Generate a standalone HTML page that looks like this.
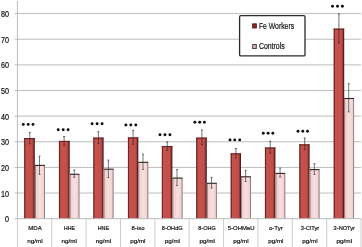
<!DOCTYPE html><html><head><meta charset="utf-8"><style>html,body{margin:0;padding:0;background:#fff;overflow:hidden}svg{display:block}text{font-family:"Liberation Sans",sans-serif;fill:#141414;stroke:#141414;stroke-width:0.2}</style></head><body>
<svg width="362" height="247" viewBox="0 0 362 247">
<defs>
<linearGradient id="gr" x1="0" x2="1" y1="0" y2="0"><stop offset="0" stop-color="#5e1c1b"/><stop offset="0.1" stop-color="#7e2d2b"/><stop offset="0.16" stop-color="#c6524f"/><stop offset="0.74" stop-color="#c34f4c"/><stop offset="0.85" stop-color="#9a3b39"/><stop offset="0.93" stop-color="#5e1f1e"/><stop offset="1" stop-color="#3a1110"/></linearGradient>
<linearGradient id="gp" x1="0" x2="1" y1="0" y2="0"><stop offset="0" stop-color="#ebcac9"/><stop offset="0.5" stop-color="#f7e0df"/><stop offset="1" stop-color="#edcdcc"/></linearGradient>
<filter id="bl" x="-5%" y="-5%" width="110%" height="110%"><feGaussianBlur stdDeviation="0.35"/></filter>
<filter id="bl2" x="-5%" y="-20%" width="110%" height="140%"><feGaussianBlur stdDeviation="0.22"/></filter>
</defs>
<rect width="362" height="247" fill="#fff"/>
<g filter="url(#bl)">
<line x1="17.4" x2="361" y1="193.06" y2="193.06" stroke="#bdbdbd" stroke-width="1"/>
<line x1="17.4" x2="361" y1="167.42" y2="167.42" stroke="#bdbdbd" stroke-width="1"/>
<line x1="17.4" x2="361" y1="141.78" y2="141.78" stroke="#bdbdbd" stroke-width="1"/>
<line x1="17.4" x2="361" y1="116.14" y2="116.14" stroke="#bdbdbd" stroke-width="1"/>
<line x1="17.4" x2="361" y1="90.50" y2="90.50" stroke="#bdbdbd" stroke-width="1"/>
<line x1="17.4" x2="361" y1="64.86" y2="64.86" stroke="#bdbdbd" stroke-width="1"/>
<line x1="17.4" x2="361" y1="39.22" y2="39.22" stroke="#bdbdbd" stroke-width="1"/>
<line x1="17.4" x2="361" y1="13.58" y2="13.58" stroke="#bdbdbd" stroke-width="1"/>
<line x1="14.6" x2="17.4" y1="218.70" y2="218.70" stroke="#bababa" stroke-width="1"/>
<line x1="14.6" x2="17.4" y1="193.06" y2="193.06" stroke="#bababa" stroke-width="1"/>
<line x1="14.6" x2="17.4" y1="167.42" y2="167.42" stroke="#bababa" stroke-width="1"/>
<line x1="14.6" x2="17.4" y1="141.78" y2="141.78" stroke="#bababa" stroke-width="1"/>
<line x1="14.6" x2="17.4" y1="116.14" y2="116.14" stroke="#bababa" stroke-width="1"/>
<line x1="14.6" x2="17.4" y1="90.50" y2="90.50" stroke="#bababa" stroke-width="1"/>
<line x1="14.6" x2="17.4" y1="64.86" y2="64.86" stroke="#bababa" stroke-width="1"/>
<line x1="14.6" x2="17.4" y1="39.22" y2="39.22" stroke="#bababa" stroke-width="1"/>
<line x1="14.6" x2="17.4" y1="13.58" y2="13.58" stroke="#bababa" stroke-width="1"/>
<line x1="17.4" x2="17.4" y1="1" y2="218.7" stroke="#bababa" stroke-width="1"/>
<line x1="17.40" x2="17.40" y1="218.7" y2="247" stroke="#cdcdcd" stroke-width="1"/>
<line x1="51.76" x2="51.76" y1="218.7" y2="247" stroke="#cdcdcd" stroke-width="1"/>
<line x1="86.12" x2="86.12" y1="218.7" y2="247" stroke="#cdcdcd" stroke-width="1"/>
<line x1="120.48" x2="120.48" y1="218.7" y2="247" stroke="#cdcdcd" stroke-width="1"/>
<line x1="154.84" x2="154.84" y1="218.7" y2="247" stroke="#cdcdcd" stroke-width="1"/>
<line x1="189.20" x2="189.20" y1="218.7" y2="247" stroke="#cdcdcd" stroke-width="1"/>
<line x1="223.56" x2="223.56" y1="218.7" y2="247" stroke="#cdcdcd" stroke-width="1"/>
<line x1="257.92" x2="257.92" y1="218.7" y2="247" stroke="#cdcdcd" stroke-width="1"/>
<line x1="292.28" x2="292.28" y1="218.7" y2="247" stroke="#cdcdcd" stroke-width="1"/>
<line x1="326.64" x2="326.64" y1="218.7" y2="247" stroke="#cdcdcd" stroke-width="1"/>
<line x1="361.00" x2="361.00" y1="218.7" y2="247" stroke="#cdcdcd" stroke-width="1"/>
<rect x="24.10" y="138.00" width="10.70" height="80.70" fill="url(#gr)"/>
<rect x="24.10" y="138.00" width="10.70" height="1.1" fill="#6a2322"/>
<path d="M29.80 132.40V143.80M28.80 132.40H30.80M28.80 143.80H30.80" stroke="#2e2424" stroke-width="0.65" fill="none"/>
<rect x="35.00" y="164.90" width="9.90" height="53.80" fill="url(#gp)"/>
<path d="M35.40 218.7V165.40M44.50 218.7V165.40" stroke="#806868" stroke-width="0.8" fill="none"/>
<path d="M35.00 165.40H44.90" stroke="#2e2424" stroke-width="1.1" fill="none"/>
<path d="M39.50 156.10V174.40M38.50 156.10H40.50M38.50 174.40H40.50" stroke="#303030" stroke-width="0.65" fill="none"/>
<circle cx="23.30" cy="124.40" r="1.45" fill="#111"/>
<circle cx="28.20" cy="124.40" r="1.45" fill="#111"/>
<circle cx="33.00" cy="124.40" r="1.45" fill="#111"/>
<rect x="58.90" y="140.90" width="10.80" height="77.80" fill="url(#gr)"/>
<rect x="58.90" y="140.90" width="10.80" height="1.1" fill="#6a2322"/>
<path d="M64.10 136.50V145.30M63.10 136.50H65.10M63.10 145.30H65.10" stroke="#2e2424" stroke-width="0.65" fill="none"/>
<rect x="69.70" y="173.80" width="9.70" height="44.90" fill="url(#gp)"/>
<path d="M70.10 218.7V174.30M79.00 218.7V174.30" stroke="#806868" stroke-width="0.8" fill="none"/>
<path d="M69.70 174.30H79.40" stroke="#2e2424" stroke-width="1.1" fill="none"/>
<path d="M74.20 170.00V177.30M73.20 170.00H75.20M73.20 177.30H75.20" stroke="#303030" stroke-width="0.65" fill="none"/>
<circle cx="58.20" cy="129.80" r="1.45" fill="#111"/>
<circle cx="63.20" cy="129.80" r="1.45" fill="#111"/>
<circle cx="68.10" cy="129.80" r="1.45" fill="#111"/>
<rect x="93.20" y="137.60" width="10.40" height="81.10" fill="url(#gr)"/>
<rect x="93.20" y="137.60" width="10.40" height="1.1" fill="#6a2322"/>
<path d="M98.40 131.70V143.70M97.40 131.70H99.40M97.40 143.70H99.40" stroke="#2e2424" stroke-width="0.65" fill="none"/>
<rect x="103.60" y="168.70" width="9.90" height="50.00" fill="url(#gp)"/>
<path d="M104.00 218.7V169.20M113.10 218.7V169.20" stroke="#806868" stroke-width="0.8" fill="none"/>
<path d="M103.60 169.20H113.50" stroke="#2e2424" stroke-width="1.1" fill="none"/>
<path d="M108.40 160.10V177.60M107.40 160.10H109.40M107.40 177.60H109.40" stroke="#303030" stroke-width="0.65" fill="none"/>
<circle cx="92.10" cy="123.70" r="1.45" fill="#111"/>
<circle cx="97.10" cy="123.70" r="1.45" fill="#111"/>
<circle cx="102.10" cy="123.70" r="1.45" fill="#111"/>
<rect x="127.90" y="137.40" width="10.40" height="81.30" fill="url(#gr)"/>
<rect x="127.90" y="137.40" width="10.40" height="1.1" fill="#6a2322"/>
<path d="M133.10 130.40V144.30M132.10 130.40H134.10M132.10 144.30H134.10" stroke="#2e2424" stroke-width="0.65" fill="none"/>
<rect x="138.30" y="161.80" width="9.90" height="56.90" fill="url(#gp)"/>
<path d="M138.70 218.7V162.30M147.80 218.7V162.30" stroke="#806868" stroke-width="0.8" fill="none"/>
<path d="M138.30 162.30H148.20" stroke="#2e2424" stroke-width="1.1" fill="none"/>
<path d="M143.00 154.20V169.40M142.00 154.20H144.00M142.00 169.40H144.00" stroke="#303030" stroke-width="0.65" fill="none"/>
<circle cx="125.90" cy="125.00" r="1.45" fill="#111"/>
<circle cx="130.80" cy="125.00" r="1.45" fill="#111"/>
<circle cx="135.80" cy="125.00" r="1.45" fill="#111"/>
<rect x="161.80" y="146.00" width="10.60" height="72.70" fill="url(#gr)"/>
<rect x="161.80" y="146.00" width="10.60" height="1.1" fill="#6a2322"/>
<path d="M167.25 141.80V150.40M166.25 141.80H168.25M166.25 150.40H168.25" stroke="#2e2424" stroke-width="0.65" fill="none"/>
<rect x="172.40" y="177.60" width="10.10" height="41.10" fill="url(#gp)"/>
<path d="M172.80 218.7V178.10M182.10 218.7V178.10" stroke="#806868" stroke-width="0.8" fill="none"/>
<path d="M172.40 178.10H182.50" stroke="#2e2424" stroke-width="1.1" fill="none"/>
<path d="M177.00 169.60V185.60M176.00 169.60H178.00M176.00 185.60H178.00" stroke="#303030" stroke-width="0.65" fill="none"/>
<circle cx="160.00" cy="134.80" r="1.45" fill="#111"/>
<circle cx="165.00" cy="134.80" r="1.45" fill="#111"/>
<circle cx="169.90" cy="134.80" r="1.45" fill="#111"/>
<rect x="196.10" y="137.60" width="10.70" height="81.10" fill="url(#gr)"/>
<rect x="196.10" y="137.60" width="10.70" height="1.1" fill="#6a2322"/>
<path d="M201.90 130.00V144.70M200.90 130.00H202.90M200.90 144.70H202.90" stroke="#2e2424" stroke-width="0.65" fill="none"/>
<rect x="206.90" y="182.80" width="9.90" height="35.90" fill="url(#gp)"/>
<path d="M207.30 218.7V183.30M216.40 218.7V183.30" stroke="#806868" stroke-width="0.8" fill="none"/>
<path d="M206.90 183.30H216.80" stroke="#2e2424" stroke-width="1.1" fill="none"/>
<path d="M211.50 177.30V188.10M210.50 177.30H212.50M210.50 188.10H212.50" stroke="#303030" stroke-width="0.65" fill="none"/>
<circle cx="194.90" cy="122.20" r="1.45" fill="#111"/>
<circle cx="199.70" cy="122.20" r="1.45" fill="#111"/>
<circle cx="204.40" cy="122.20" r="1.45" fill="#111"/>
<rect x="230.60" y="153.30" width="10.40" height="65.40" fill="url(#gr)"/>
<rect x="230.60" y="153.30" width="10.40" height="1.1" fill="#6a2322"/>
<path d="M235.90 148.50V158.00M234.90 148.50H236.90M234.90 158.00H236.90" stroke="#2e2424" stroke-width="0.65" fill="none"/>
<rect x="241.00" y="176.30" width="9.90" height="42.40" fill="url(#gp)"/>
<path d="M241.40 218.7V176.80M250.50 218.7V176.80" stroke="#806868" stroke-width="0.8" fill="none"/>
<path d="M241.00 176.80H250.90" stroke="#2e2424" stroke-width="1.1" fill="none"/>
<path d="M245.60 170.40V181.50M244.60 170.40H246.60M244.60 181.50H246.60" stroke="#303030" stroke-width="0.65" fill="none"/>
<circle cx="230.00" cy="139.90" r="1.45" fill="#111"/>
<circle cx="234.70" cy="139.90" r="1.45" fill="#111"/>
<circle cx="239.70" cy="139.90" r="1.45" fill="#111"/>
<rect x="264.90" y="147.50" width="10.50" height="71.20" fill="url(#gr)"/>
<rect x="264.90" y="147.50" width="10.50" height="1.1" fill="#6a2322"/>
<path d="M270.20 141.30V153.30M269.20 141.30H271.20M269.20 153.30H271.20" stroke="#2e2424" stroke-width="0.65" fill="none"/>
<rect x="275.50" y="172.90" width="9.70" height="45.80" fill="url(#gp)"/>
<path d="M275.90 218.7V173.40M284.80 218.7V173.40" stroke="#806868" stroke-width="0.8" fill="none"/>
<path d="M275.50 173.40H285.20" stroke="#2e2424" stroke-width="1.1" fill="none"/>
<path d="M280.10 168.10V177.10M279.10 168.10H281.10M279.10 177.10H281.10" stroke="#303030" stroke-width="0.65" fill="none"/>
<circle cx="263.30" cy="133.20" r="1.45" fill="#111"/>
<circle cx="268.10" cy="133.20" r="1.45" fill="#111"/>
<circle cx="272.80" cy="133.20" r="1.45" fill="#111"/>
<rect x="299.20" y="144.30" width="10.40" height="74.40" fill="url(#gr)"/>
<rect x="299.20" y="144.30" width="10.40" height="1.1" fill="#6a2322"/>
<path d="M304.70 138.00V149.50M303.70 138.00H305.70M303.70 149.50H305.70" stroke="#2e2424" stroke-width="0.65" fill="none"/>
<rect x="309.60" y="169.10" width="9.90" height="49.60" fill="url(#gp)"/>
<path d="M310.00 218.7V169.60M319.10 218.7V169.60" stroke="#806868" stroke-width="0.8" fill="none"/>
<path d="M309.60 169.60H319.50" stroke="#2e2424" stroke-width="1.1" fill="none"/>
<path d="M314.40 163.70V174.40M313.40 163.70H315.40M313.40 174.40H315.40" stroke="#303030" stroke-width="0.65" fill="none"/>
<circle cx="298.00" cy="131.30" r="1.45" fill="#111"/>
<circle cx="302.80" cy="131.30" r="1.45" fill="#111"/>
<circle cx="307.50" cy="131.30" r="1.45" fill="#111"/>
<rect x="333.60" y="28.60" width="10.60" height="190.10" fill="url(#gr)"/>
<rect x="333.60" y="28.60" width="10.60" height="1.1" fill="#6a2322"/>
<path d="M338.90 13.90V42.90M337.90 13.90H339.90M337.90 42.90H339.90" stroke="#2e2424" stroke-width="0.65" fill="none"/>
<rect x="344.20" y="98.00" width="9.80" height="120.70" fill="url(#gp)"/>
<path d="M344.60 218.7V98.50M353.60 218.7V98.50" stroke="#806868" stroke-width="0.8" fill="none"/>
<path d="M344.20 98.50H354.00" stroke="#2e2424" stroke-width="1.1" fill="none"/>
<path d="M348.70 83.70V111.90M347.70 83.70H349.70M347.70 111.90H349.70" stroke="#303030" stroke-width="0.65" fill="none"/>
<circle cx="332.50" cy="6.20" r="1.45" fill="#111"/>
<circle cx="337.50" cy="6.20" r="1.45" fill="#111"/>
<circle cx="342.40" cy="6.20" r="1.45" fill="#111"/>
<line x1="17.4" x2="361" y1="218.7" y2="218.7" stroke="#bababa" stroke-width="1"/>
<rect x="239.6" y="15.7" width="65.4" height="40.2" rx="1.2" fill="#fff" stroke="#2a2a2a" stroke-width="1.3"/>
<rect x="252.7" y="23.9" width="3.6" height="4.0" fill="#a32a28" stroke="#4a1010" stroke-width="1"/>
<rect x="252.7" y="44.5" width="3.6" height="4.0" fill="#d6bcbb" stroke="#4a3c3c" stroke-width="1"/>
<text x="258.9" y="28.6" font-size="8.4" textLength="35.2" lengthAdjust="spacingAndGlyphs">Fe Workers</text>
<text x="258.9" y="48.9" font-size="8.4" textLength="25.8" lengthAdjust="spacingAndGlyphs">Controls</text>
<text x="5.10" y="222.20" font-size="8.2" textLength="4.0" lengthAdjust="spacingAndGlyphs">0</text>
<text x="1.10" y="196.56" font-size="8.2" textLength="8.0" lengthAdjust="spacingAndGlyphs">10</text>
<text x="1.10" y="170.92" font-size="8.2" textLength="8.0" lengthAdjust="spacingAndGlyphs">20</text>
<text x="1.10" y="145.28" font-size="8.2" textLength="8.0" lengthAdjust="spacingAndGlyphs">30</text>
<text x="1.10" y="119.64" font-size="8.2" textLength="8.0" lengthAdjust="spacingAndGlyphs">40</text>
<text x="1.10" y="94.00" font-size="8.2" textLength="8.0" lengthAdjust="spacingAndGlyphs">50</text>
<text x="1.10" y="68.36" font-size="8.2" textLength="8.0" lengthAdjust="spacingAndGlyphs">60</text>
<text x="1.10" y="42.72" font-size="8.2" textLength="8.0" lengthAdjust="spacingAndGlyphs">70</text>
<text x="1.10" y="17.08" font-size="8.2" textLength="8.0" lengthAdjust="spacingAndGlyphs">80</text>
</g>
<g filter="url(#bl2)">
<text x="28.20" y="230.3" font-size="6" stroke="none" fill="#222" textLength="13.50" lengthAdjust="spacingAndGlyphs">MDA</text>
<text x="27.30" y="242.7" font-size="6" stroke="none" fill="#222" textLength="15.30" lengthAdjust="spacingAndGlyphs">ng/ml</text>
<text x="63.90" y="230.3" font-size="6" stroke="none" fill="#222" textLength="11.00" lengthAdjust="spacingAndGlyphs">HHE</text>
<text x="61.50" y="242.7" font-size="6" stroke="none" fill="#222" textLength="15.30" lengthAdjust="spacingAndGlyphs">ng/ml</text>
<text x="97.70" y="230.3" font-size="6" stroke="none" fill="#222" textLength="11.40" lengthAdjust="spacingAndGlyphs">HNE</text>
<text x="95.70" y="242.7" font-size="6" stroke="none" fill="#222" textLength="15.40" lengthAdjust="spacingAndGlyphs">ng/ml</text>
<text x="131.50" y="230.3" font-size="6" stroke="none" fill="#222" textLength="13.00" lengthAdjust="spacingAndGlyphs">8-iso</text>
<text x="130.30" y="242.7" font-size="6" stroke="none" fill="#222" textLength="15.10" lengthAdjust="spacingAndGlyphs">pg/ml</text>
<text x="161.80" y="230.3" font-size="6" stroke="none" fill="#222" textLength="20.80" lengthAdjust="spacingAndGlyphs">8-OHdG</text>
<text x="164.70" y="242.7" font-size="6" stroke="none" fill="#222" textLength="15.30" lengthAdjust="spacingAndGlyphs">pg/ml</text>
<text x="198.30" y="230.3" font-size="6" stroke="none" fill="#222" textLength="17.50" lengthAdjust="spacingAndGlyphs">8-OHG</text>
<text x="199.50" y="242.7" font-size="6" stroke="none" fill="#222" textLength="15.30" lengthAdjust="spacingAndGlyphs">pg/ml</text>
<text x="227.80" y="230.3" font-size="6" stroke="none" fill="#222" textLength="26.80" lengthAdjust="spacingAndGlyphs">5-OHMeU</text>
<text x="233.30" y="242.7" font-size="6" stroke="none" fill="#222" textLength="15.30" lengthAdjust="spacingAndGlyphs">pg/ml</text>
<text x="268.90" y="230.3" font-size="6" stroke="none" fill="#222" textLength="13.90" lengthAdjust="spacingAndGlyphs">o-Tyr</text>
<text x="268.30" y="242.7" font-size="6" stroke="none" fill="#222" textLength="15.10" lengthAdjust="spacingAndGlyphs">pg/ml</text>
<text x="300.70" y="230.3" font-size="6" stroke="none" fill="#222" textLength="18.50" lengthAdjust="spacingAndGlyphs">3-ClTyr</text>
<text x="302.30" y="242.7" font-size="6" stroke="none" fill="#222" textLength="15.30" lengthAdjust="spacingAndGlyphs">pg/ml</text>
<text x="333.60" y="230.3" font-size="6" stroke="none" fill="#222" textLength="21.40" lengthAdjust="spacingAndGlyphs">3-NOTyr</text>
<text x="336.50" y="242.7" font-size="6" stroke="none" fill="#222" textLength="15.60" lengthAdjust="spacingAndGlyphs">pg/ml</text>
</g></svg></body></html>
